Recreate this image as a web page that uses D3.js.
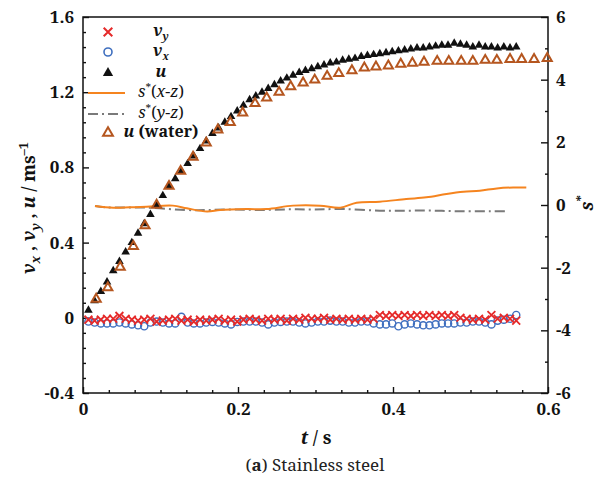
<!DOCTYPE html>
<html>
<head>
<meta charset="utf-8">
<script src="https://cdn.jsdelivr.net/npm/d3@7"></script>
</head>
<body style="margin:0;background:#fff">
<svg id="chart" width="598" height="480" style="display:block"></svg>
<script>
// ---- data -------------------------------------------------------------
// sampling times (s) of the stainless-steel run
const tSteel = [0.007,0.015,0.023,0.031,0.039,0.047,0.055,0.063,0.071,0.079,
  0.087,0.095,0.103,0.111,0.119,0.127,0.135,0.143,0.151,0.159,
  0.167,0.175,0.183,0.191,0.199,0.207,0.215,0.223,0.231,0.239,
  0.247,0.255,0.263,0.271,0.279,0.287,0.295,0.303,0.311,0.319,
  0.327,0.335,0.343,0.351,0.359,0.367,0.375,0.383,0.391,0.399,
  0.407,0.415,0.423,0.431,0.439,0.447,0.455,0.463,0.471,0.479,
  0.487,0.495,0.503,0.511,0.519,0.527,0.535,0.543,0.551,0.559];

// u (m/s)
const uSteel = [0.04,0.09,0.14,0.19,0.25,0.30,0.35,0.40,0.45,0.50,
  0.55,0.60,0.65,0.70,0.74,0.78,0.82,0.86,0.90,0.94,
  0.98,1.01,1.04,1.07,1.10,1.13,1.16,1.18,1.20,1.22,
  1.24,1.26,1.275,1.29,1.305,1.315,1.325,1.335,1.345,1.355,
  1.36,1.37,1.375,1.38,1.39,1.395,1.40,1.405,1.41,1.415,
  1.42,1.425,1.43,1.435,1.435,1.44,1.445,1.45,1.45,1.46,
  1.455,1.45,1.44,1.45,1.44,1.44,1.435,1.44,1.435,1.44];

// v_x (m/s)
const vxSteel = [-0.02,-0.025,-0.03,-0.03,-0.03,-0.025,-0.03,-0.035,-0.04,-0.045,
  -0.025,-0.02,-0.025,-0.03,-0.03,0.005,-0.025,-0.03,-0.03,-0.025,
  -0.022,-0.025,-0.03,-0.035,-0.022,-0.02,-0.02,-0.02,-0.025,-0.035,
  -0.025,-0.022,-0.02,-0.02,-0.025,-0.03,-0.025,-0.02,-0.02,-0.015,
  -0.02,-0.02,-0.025,-0.025,-0.02,-0.02,-0.03,-0.035,-0.035,-0.03,
  -0.045,-0.035,-0.03,-0.035,-0.04,-0.04,-0.035,-0.03,-0.03,-0.03,
  -0.025,-0.025,-0.02,-0.02,-0.025,-0.035,-0.015,-0.01,-0.005,0.015];

// v_y (m/s)
const vySteel = [-0.01,-0.015,-0.01,-0.005,-0.005,0.01,-0.005,-0.01,-0.015,-0.01,
  -0.005,-0.02,-0.015,-0.01,-0.005,-0.015,-0.01,-0.02,-0.01,-0.015,
  -0.01,-0.005,-0.015,-0.01,-0.02,-0.01,-0.005,-0.01,-0.015,-0.005,
  -0.01,-0.005,-0.015,-0.005,-0.01,0.0,-0.005,-0.005,0.0,-0.01,
  -0.005,-0.01,-0.005,-0.01,-0.005,-0.01,-0.005,0.015,0.01,0.015,
  0.01,0.015,0.01,0.015,0.01,0.015,0.01,0.015,0.01,0.015,
  0.0,-0.005,-0.01,-0.005,-0.01,0.015,-0.005,0.0,-0.005,-0.015];

// u in water: times (s) and values (m/s)
const tWater = [0.017,0.032,0.048,0.065,0.080,0.095,0.111,0.126,0.142,0.159,
  0.174,0.190,0.206,0.222,0.237,0.253,0.268,0.284,0.299,0.315,
  0.330,0.347,0.363,0.378,0.394,0.410,0.425,0.440,0.457,0.472,
  0.488,0.503,0.519,0.534,0.551,0.566,0.582,0.599];
const uWater = [0.10,0.16,0.27,0.38,0.49,0.60,0.70,0.78,0.855,0.93,
  1.00,1.04,1.09,1.14,1.17,1.20,1.23,1.25,1.265,1.285,
  1.30,1.315,1.33,1.335,1.34,1.35,1.355,1.36,1.365,1.365,
  1.365,1.365,1.37,1.37,1.375,1.375,1.375,1.38];

// s*(x-z), right axis
const tSxz = [0.0155,0.039,0.060,0.082,0.116,0.134,0.160,0.177,0.211,0.237,0.271,0.306,
  0.332,0.353,0.383,0.417,0.443,0.469,0.491,0.512,0.534,0.555,0.572];
const sXZ = [-0.03,-0.085,-0.074,-0.054,-0.02,-0.106,-0.21,-0.16,-0.13,-0.13,-0.02,-0.02,
  -0.085,0.074,0.105,0.19,0.245,0.35,0.42,0.456,0.53,0.56,0.56];

// s*(y-z), right axis
const tSyz = [0.0155,0.031,0.082,0.132,0.160,0.194,0.228,0.263,0.297,0.336,0.383,0.418,0.452,0.486,0.525,0.547];
const sYZ = [-0.03,-0.075,-0.085,-0.16,-0.16,-0.14,-0.16,-0.14,-0.14,-0.13,-0.18,-0.18,-0.18,-0.2,-0.2,-0.2];

// axis ticks
const xTicks = [0, 0.2, 0.4, 0.6];
const yLeftTicks = [-0.4, 0, 0.4, 0.8, 1.2, 1.6];
const yRightTicks = [-6, -4, -2, 0, 2, 4, 6];

// ---- colours ----------------------------------------------------------
const C = {
  vy: "#e52a2a",
  vx: "#3f6fbf",
  u: "#111111",
  sxz: "#f5841f",
  syz: "#7a7a7a",
  water: "#b5561f"
};

const SERIF = "Noto Serif";

// ---- scales -----------------------------------------------------------
const svg = d3.select("#chart");
const L = 83, R = 548, T = 17, B = 393;
const x = d3.scaleLinear().domain([0, 0.6]).range([L, R]);
const yL = d3.scaleLinear().domain([-0.4, 1.6]).range([B, T]);
const yR = d3.scaleLinear().domain([-6, 6]).range([B, T]);

const fmt = v => (v === 0 ? "0" : String(v)).replace("\u2212", "-");
const FS = 17;

// ---- axes -------------------------------------------------------------
function styleAxis(g) {
  g.attr("font-family", SERIF);
  g.select(".domain").remove();
  g.selectAll("line").attr("stroke", "#111").attr("stroke-width", 1.4);
  g.selectAll("text").attr("font-family", SERIF).attr("font-size", FS)
    .attr("font-weight", "bold").attr("fill", "#111");
}

// minor ticks
const xMinor = d3.range(0, 0.6001, 0.2 / 6).filter(v => xTicks.every(t => Math.abs(t - v) > 1e-6));
const yLMinor = d3.range(-0.4, 1.6001, 0.08).filter(v => yLeftTicks.every(t => Math.abs(t - v) > 1e-6));
const yRMinor = [-5, -3, -1, 1, 3, 5];

svg.append("g").attr("transform", `translate(0,${B})`)
  .call(d3.axisBottom(x).tickValues(xMinor).tickFormat("").tickSize(-3))
  .call(styleAxis);
svg.append("g").attr("transform", `translate(0,${B})`)
  .call(d3.axisBottom(x).tickValues(xTicks).tickFormat(fmt).tickSize(-6).tickPadding(10))
  .call(styleAxis);

svg.append("g").attr("transform", `translate(${L},0)`)
  .call(d3.axisLeft(yL).tickValues(yLMinor).tickFormat("").tickSize(-3))
  .call(styleAxis);
svg.append("g").attr("transform", `translate(${L},0)`)
  .call(d3.axisLeft(yL).tickValues(yLeftTicks).tickFormat(fmt).tickSize(-6).tickPadding(9))
  .call(styleAxis);

svg.append("g").attr("transform", `translate(${R},0)`)
  .call(d3.axisRight(yR).tickValues(yRMinor).tickFormat("").tickSize(-3))
  .call(styleAxis);
svg.append("g").attr("transform", `translate(${R},0)`)
  .call(d3.axisRight(yR).tickValues(yRightTicks).tickFormat(fmt).tickSize(-7).tickPadding(8))
  .call(styleAxis);

// frame
svg.append("rect").attr("x", L).attr("y", T).attr("width", R - L).attr("height", B - T)
  .attr("fill", "none").attr("stroke", "#111").attr("stroke-width", 1.5);

// ---- rich text helper -------------------------------------------------
function rich(textSel, parts, size) {
  textSel.attr("font-family", SERIF);
  let cur = 0;
  parts.forEach(p => {
    const sh = p.sh || 0;
    textSel.append("tspan")
      .text(p.t)
      .attr("font-family", SERIF)
      .attr("font-style", p.i ? "italic" : "normal")
      .attr("font-weight", p.n ? "normal" : "bold")
      .attr("font-size", (p.sz || 1) * size)
      .attr("dy", (sh - cur) * size);
    cur = sh;
  });
  return textSel;
}

// ---- series -----------------------------------------------------------
const lineR = d3.line().curve(d3.curveCatmullRom.alpha(0.5));

svg.append("path")
  .attr("d", lineR(tSyz.map((t, i) => [x(t), yR(sYZ[i])])))
  .attr("fill", "none").attr("stroke", C.syz).attr("stroke-width", 2)
  .attr("stroke-dasharray", "10,4,2,4");

svg.append("path")
  .attr("d", lineR(tSxz.map((t, i) => [x(t), yR(sXZ[i])])))
  .attr("fill", "none").attr("stroke", C.sxz).attr("stroke-width", 2);

// v_x: open circles
svg.append("g").selectAll("circle").data(tSteel).join("circle")
  .attr("cx", d => x(d)).attr("cy", (d, i) => yL(vxSteel[i])).attr("r", 3.6)
  .attr("fill", "none").attr("stroke", C.vx).attr("stroke-width", 1.4);

// v_y: crosses
const crossPath = d3.symbol().type(d3.symbolTimes).size(42);
svg.append("g").selectAll("path").data(tSteel).join("path")
  .attr("d", crossPath)
  .attr("transform", (d, i) => `translate(${x(d)},${yL(vySteel[i])})`)
  .attr("fill", "none").attr("stroke", C.vy).attr("stroke-width", 1.8);

// u: filled triangles
const triSolid = d3.symbol().type(d3.symbolTriangle).size(32);
svg.append("g").selectAll("path").data(tSteel).join("path")
  .attr("d", triSolid)
  .attr("transform", (d, i) => `translate(${x(d)},${yL(uSteel[i])})`)
  .attr("fill", C.u);

// u (water): open triangles
const triOpen = d3.symbol().type(d3.symbolTriangle).size(36);
svg.append("g").selectAll("path").data(tWater).join("path")
  .attr("d", triOpen)
  .attr("transform", (d, i) => `translate(${x(d)},${yL(uWater[i])})`)
  .attr("fill", "none").attr("stroke", C.water).attr("stroke-width", 2);

// ---- legend -----------------------------------------------------------
const lg = svg.append("g");
const mx = 108, tx = 161;
const rows = [32, 52, 73, 93, 114, 133];

lg.append("path").attr("d", d3.symbol().type(d3.symbolTimes).size(50))
  .attr("transform", `translate(${mx},${rows[0]})`)
  .attr("fill", "none").attr("stroke", C.vy).attr("stroke-width", 2);
lg.append("circle").attr("cx", mx).attr("cy", rows[1]).attr("r", 4)
  .attr("fill", "none").attr("stroke", C.vx).attr("stroke-width", 1.6);
lg.append("path").attr("d", d3.symbol().type(d3.symbolTriangle).size(46))
  .attr("transform", `translate(${mx},${rows[2]})`).attr("fill", C.u);
lg.append("line").attr("x1", 88).attr("x2", 125).attr("y1", rows[3]).attr("y2", rows[3])
  .attr("stroke", C.sxz).attr("stroke-width", 2);
lg.append("line").attr("x1", 88).attr("x2", 125).attr("y1", rows[4]).attr("y2", rows[4])
  .attr("stroke", C.syz).attr("stroke-width", 2).attr("stroke-dasharray", "10,4,2,4");
lg.append("path").attr("d", d3.symbol().type(d3.symbolTriangle).size(42))
  .attr("transform", `translate(${mx},${rows[5]})`)
  .attr("fill", "none").attr("stroke", C.water).attr("stroke-width", 2);

const legendLabels = [
  [{ t: "v", i: 1 }, { t: "y", i: 1, sh: 0.22, sz: 0.66 }],
  [{ t: "v", i: 1 }, { t: "x", i: 1, sh: 0.22, sz: 0.66 }],
  [{ t: "u", i: 1 }],
  [{ t: "s", i: 1, n: 1 }, { t: "*", n: 1, sh: -0.35, sz: 0.7 }, { t: "(", n: 1 }, { t: "x", i: 1, n: 1 },
   { t: "-", n: 1 }, { t: "z", i: 1, n: 1 }, { t: ")", n: 1 }],
  [{ t: "s", i: 1, n: 1 }, { t: "*", n: 1, sh: -0.35, sz: 0.7 }, { t: "(", n: 1 }, { t: "y", i: 1, n: 1 },
   { t: "-", n: 1 }, { t: "z", i: 1, n: 1 }, { t: ")", n: 1 }],
  [{ t: "u", i: 1 }, { t: " (water)" }]
];
legendLabels.forEach((parts, k) => {
  rich(lg.append("text").attr("x", tx).attr("y", rows[k] + 4).attr("text-anchor", "middle").attr("fill", "#111"),
    parts, 16);
});

// ---- axis titles ------------------------------------------------------
rich(svg.append("text").attr("transform", "translate(35,208) rotate(-90)").attr("text-anchor", "middle").attr("fill", "#111"),
  [{ t: "v", i: 1 }, { t: "x", i: 1, sh: 0.3, sz: 0.7 }, { t: " , " }, { t: "v", i: 1 },
   { t: "y", i: 1, sh: 0.3, sz: 0.7 }, { t: " , " }, { t: "u", i: 1 }, { t: " / ms" },
   { t: "\u20131", sh: -0.4, sz: 0.7 }], 18);

rich(svg.append("text").attr("transform", "translate(593,203) rotate(-90)").attr("text-anchor", "middle").attr("fill", "#111"),
  [{ t: "s", i: 1 }, { t: "*", sh: -0.4, sz: 0.7 }], 18);

rich(svg.append("text").attr("x", 316).attr("y", 444).attr("text-anchor", "middle").attr("fill", "#111"),
  [{ t: "t", i: 1 }, { t: " / s" }], 18);

rich(svg.append("text").attr("x", 315).attr("y", 471).attr("text-anchor", "middle").attr("fill", "#222"),
  [{ t: "(", n: 1 }, { t: "a" }, { t: ") Stainless steel", n: 1 }], 17);
</script>
</body>
</html>
